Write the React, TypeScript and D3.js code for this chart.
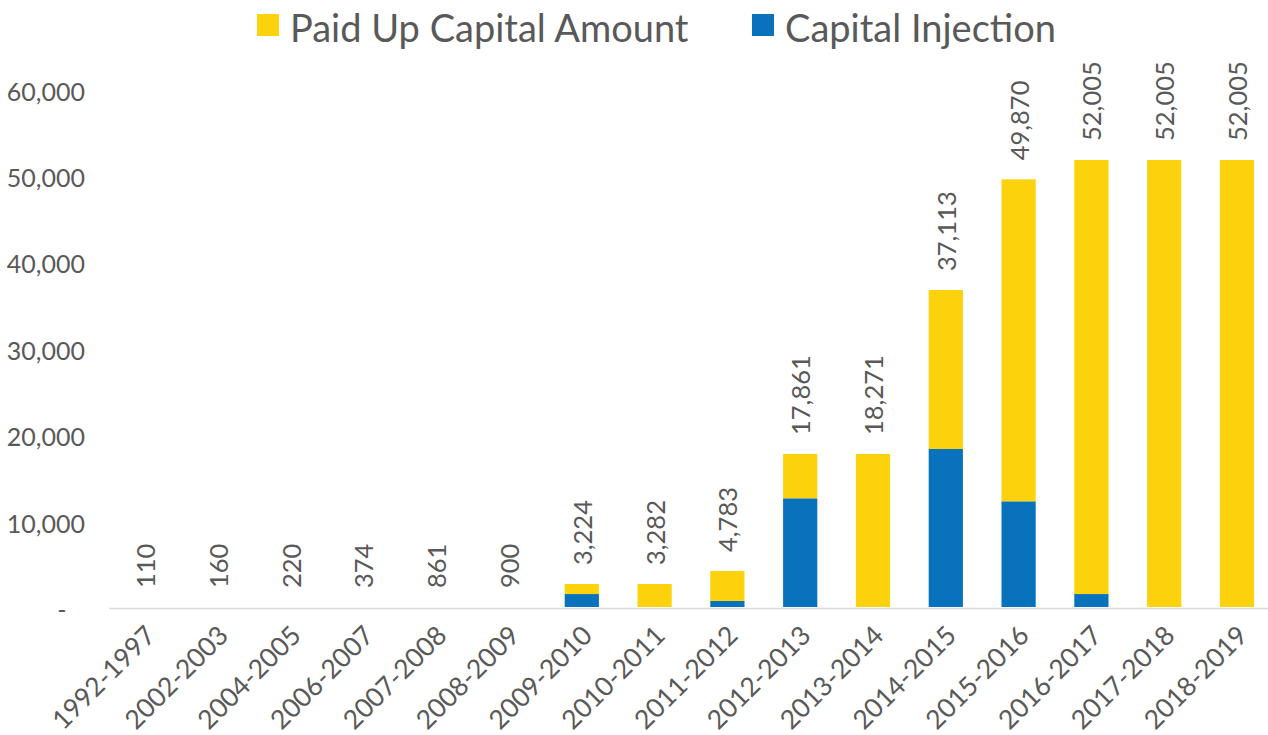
import React, { useRef, useEffect } from "react";
import * as d3 from "d3";

// categories (financial years)
const years = [
  "1992-1997", "2002-2003", "2004-2005", "2006-2007", "2007-2008", "2008-2009",
  "2009-2010", "2010-2011", "2011-2012", "2012-2013", "2013-2014", "2014-2015",
  "2015-2016", "2016-2017", "2017-2018", "2018-2019",
];

// labels printed above each bar
const labelValues = [
  110, 160, 220, 374, 861, 900, 3224, 3282, 4783, 17861, 18271, 37113, 49870,
  52005, 52005, 52005,
];

// blue segment (bottom of the stack)
const capitalInjection = [
  0, 0, 0, 0, 0, 0, 1500, 0, 700, 12580, 0, 18290, 12230, 1500, 0, 0,
];

// yellow segment (on top of the blue one)
const paidUpCapital = [
  0, 0, 0, 0, 0, 0, 1160, 2660, 3470, 5130, 17710, 18400, 37270, 50240, 51740,
  51740,
];

const yTicks = [0, 10000, 20000, 30000, 40000, 50000, 60000];

const YELLOW = "#FCD20C";
const BLUE = "#0872BC";
const TEXT = "#595959";
const FONT = "Lato, 'Noto Sans', sans-serif";

const WIDTH = 1268;
const HEIGHT = 735;

const App = () => {
  const svgRef = useRef<SVGSVGElement>(null);

  useEffect(() => {
    const svg = d3.select(svgRef.current);
    svg.selectAll("*").remove();

    const x = d3
      .scaleBand()
      .domain(years)
      .range([108.6, 108.6 + 16 * 72.8])
      .paddingInner(0.53)
      .paddingOuter(0.265);

    const y = d3.scaleLinear().domain([0, 60000]).range([607, 88.6]);

    const fmt = d3.format(",");

    // y axis labels (no axis line, no gridlines)
    svg
      .append("g")
      .selectAll("text")
      .data(yTicks)
      .enter()
      .append("text")
      .attr("x", (d) => (d === 0 ? 62 : 85))
      .attr("y", (d) => y(d) + 2)
      .attr("text-anchor", (d) => (d === 0 ? "middle" : "end"))
      .attr("dominant-baseline", "central")
      .attr("font-family", FONT)
      .attr("font-size", 25)
      .attr("fill", TEXT)
      .text((d) => (d === 0 ? "-" : fmt(d)));

    // baseline
    svg
      .append("line")
      .attr("x1", 109)
      .attr("x2", WIDTH)
      .attr("y1", y(0) + 1.5)
      .attr("y2", y(0) + 1.5)
      .attr("stroke", "#D9D9D9")
      .attr("stroke-width", 1.5);

    // stacked bars
    const rows = years.map((yr, i) => ({
      year: yr,
      inj: capitalInjection[i],
      paid: paidUpCapital[i],
      label: labelValues[i],
    }));

    const bars = svg.append("g");
    bars
      .selectAll("rect.inj")
      .data(rows)
      .enter()
      .append("rect")
      .attr("class", "inj")
      .attr("x", (d) => x(d.year)!)
      .attr("y", (d) => y(d.inj))
      .attr("width", x.bandwidth())
      .attr("height", (d) => y(0) - y(d.inj))
      .attr("fill", BLUE);

    bars
      .selectAll("rect.paid")
      .data(rows)
      .enter()
      .append("rect")
      .attr("class", "paid")
      .attr("x", (d) => x(d.year)!)
      .attr("y", (d) => y(d.inj + d.paid))
      .attr("width", x.bandwidth())
      .attr("height", (d) => y(d.inj) - y(d.inj + d.paid))
      .attr("fill", YELLOW);

    // value labels, rotated, above each bar
    svg
      .append("g")
      .selectAll("text")
      .data(rows)
      .enter()
      .append("text")
      .attr(
        "transform",
        (d) =>
          `translate(${x(d.year)! + x.bandwidth() / 2},${y(d.inj + d.paid) - 19}) rotate(-90)`
      )
      .attr("text-anchor", "start")
      .attr("dominant-baseline", "central")
      .attr("font-family", FONT)
      .attr("font-size", 25.5)
      .attr("fill", TEXT)
      .text((d) => fmt(d.label));

    // x axis labels at -45 degrees
    svg
      .append("g")
      .selectAll("text")
      .data(years)
      .enter()
      .append("text")
      .attr(
        "transform",
        (d) => `translate(${x(d)! + x.bandwidth() / 2 + 5},${630}) rotate(-45)`
      )
      .attr("text-anchor", "end")
      .attr("dominant-baseline", "central")
      .attr("font-family", FONT)
      .attr("font-size", 26.5)
      .attr("fill", TEXT)
      .text((d) => d);

    // legend
    const legend = [
      { name: "Paid Up Capital Amount", color: YELLOW, x: 257 },
      { name: "Capital Injection", color: BLUE, x: 752 },
    ];
    const lg = svg
      .append("g")
      .selectAll("g")
      .data(legend)
      .enter()
      .append("g")
      .attr("transform", (d) => `translate(${d.x},0)`);
    lg.append("rect")
      .attr("x", 0)
      .attr("y", 14)
      .attr("width", 22)
      .attr("height", 22)
      .attr("fill", (d) => d.color);
    lg.append("text")
      .attr("x", 33)
      .attr("y", 27)
      .attr("dominant-baseline", "central")
      .attr("font-family", FONT)
      .attr("font-size", 38)
      .attr("fill", TEXT)
      .text((d) => d.name);
  }, []);

  return (
    <svg
      ref={svgRef}
      width={WIDTH}
      height={HEIGHT}
      style={{ position: "absolute", left: 0, top: 0, background: "#fff" }}
    />
  );
};

export default App;
